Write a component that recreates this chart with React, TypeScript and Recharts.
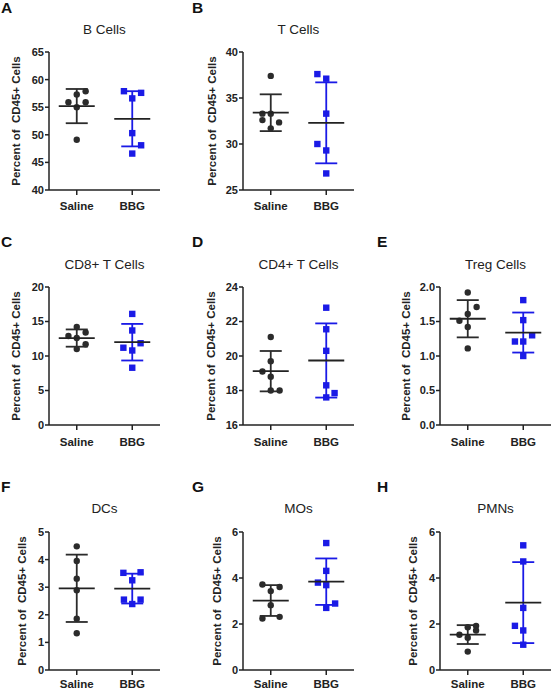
import React from 'react';
import { ScatterChart, Scatter, XAxis, YAxis, ErrorBar } from 'recharts';

const categories = ['Saline', 'BBG'];

// A: B Cells
const bCellsSaline = [57.9, 57.3, 55.9, 55.9, 55.0, 49.1];
const bCellsBBG = [57.9, 57.6, 56.6, 50.3, 48.1, 46.6];
const bCellsSalineJitter = [0.16, 0, -0.15, 0.16, 0, 0];
const bCellsBBGJitter = [-0.15, 0.16, 0, 0, 0.16, 0];
const bCellsMean = [55.2, 52.9];
const bCellsSD = [3.1, 5.0];
const bCellsTicks = [40, 45, 50, 55, 60, 65];

// B: T Cells
const tCellsSaline = [37.4, 33.3, 33.3, 32.6, 32.35, 31.7];
const tCellsBBG = [37.6, 37.1, 33.3, 30.0, 29.3, 26.8];
const tCellsSalineJitter = [0, -0.15, 0, -0.15, 0.15, 0];
const tCellsBBGJitter = [-0.16, 0, 0, -0.16, 0, 0];
const tCellsMean = [33.4, 32.3];
const tCellsSD = [2.0, 4.4];
const tCellsTicks = [25, 30, 35, 40];

// C: CD8+ T Cells
const cd8Saline = [14.2, 12.9, 13.4, 12.6, 11.7, 11.0];
const cd8BBG = [16.1, 13.7, 11.85, 11.2, 10.8, 8.3];
const cd8SalineJitter = [0, -0.15, 0.16, 0, 0.16, 0];
const cd8BBGJitter = [0, 0, 0.15, -0.16, 0, 0];
const cd8Mean = [12.6, 12.0];
const cd8SD = [1.25, 2.65];
const cd8Ticks = [0, 5, 10, 15, 20];

// D: CD4+ T Cells
const cd4Saline = [21.1, 19.7, 19.1, 18.8, 18.0, 18.0];
const cd4BBG = [22.8, 21.55, 20.3, 18.3, 17.85, 17.6];
const cd4SalineJitter = [0, 0, -0.15, 0, 0, 0.16];
const cd4BBGJitter = [0, 0, 0, 0, 0.15, 0];
const cd4Mean = [19.12, 19.74];
const cd4SD = [1.17, 2.15];
const cd4Ticks = [16, 18, 20, 22, 24];

// E: Treg Cells
const tregSaline = [1.92, 1.71, 1.61, 1.51, 1.42, 1.11];
const tregBBG = [1.81, 1.52, 1.3, 1.21, 1.21, 1.0];
const tregSalineJitter = [0, 0.16, 0, -0.15, 0, 0];
const tregBBGJitter = [0, 0, 0.16, -0.15, 0, 0];
const tregMean = [1.54, 1.34];
const tregSD = [0.27, 0.29];
const tregTicks = [0, 0.5, 1.0, 1.5, 2.0];

// F: DCs
const dcSaline = [4.48, 3.95, 3.31, 2.89, 1.86, 1.33];
const dcBBG = [3.52, 3.54, 3.25, 2.55, 2.55, 2.39];
const dcSalineJitter = [0, 0, 0, 0, 0, 0];
const dcBBGJitter = [-0.16, 0.15, 0, -0.15, 0.15, 0];
const dcMean = [2.96, 2.95];
const dcSD = [1.22, 0.54];
const dcTicks = [0, 1, 2, 3, 4, 5];

// G: MOs
const moSaline = [3.72, 3.61, 3.43, 2.82, 2.24, 2.31];
const moBBG = [5.52, 4.31, 3.8, 3.69, 2.89, 2.7];
const moSalineJitter = [-0.15, 0.16, 0, 0, -0.15, 0.16];
const moBBGJitter = [0, 0, -0.15, 0, 0.16, 0];
const moMean = [3.02, 3.84];
const moSD = [0.67, 1.01];
const moTicks = [0, 2, 4, 6];

// H: PMNs
const pmnSaline = [1.92, 1.86, 1.72, 1.53, 1.4, 0.8];
const pmnBBG = [5.42, 4.72, 2.7, 1.92, 1.72, 1.1];
const pmnSalineJitter = [0.15, 0, 0.15, -0.15, 0, 0];
const pmnBBGJitter = [0, 0, 0, -0.15, 0, 0];
const pmnMean = [1.54, 2.93];
const pmnSD = [0.41, 1.76];
const pmnTicks = [0, 2, 4, 6];

const FONT = '"Liberation Sans", Arial, Helvetica, sans-serif';
const DARK = '#2b2b2b';
const BLUE = '#1a1ae6';
const AXIS = '#222';

const PW = 111;
const PH = 138;
const YW = 49;
const MT = 10;
const XH = 28;

const SalineDot = (props: any) => <circle cx={props.cx} cy={props.cy} r={3.2} fill={DARK} />;
const BBGDot = (props: any) => (
  <rect x={props.cx - 3.2} y={props.cy - 3.2} width={6.4} height={6.4} fill={BLUE} />
);
const MeanLine = (props: any) => (
  <line x1={props.cx - 18} x2={props.cx + 18} y1={props.cy} y2={props.cy} stroke={AXIS} strokeWidth={1.8} />
);

type PanelProps = {
  letter: string;
  letterX: number;
  title: string;
  axisX: number;
  plotTop: number;
  labelOff: number;
  xTickMargin: number;
  ticks: number[];
  decimals: number;
  saline: number[];
  bbg: number[];
  salineJitter: number[];
  bbgJitter: number[];
  mean: number[];
  sd: number[];
};

function Panel(p: PanelProps) {
  const chartLeft = p.axisX - YW;
  const chartTop = p.plotTop - MT;
  const salineData = p.saline.map((v, i) => ({ x: 1 + p.salineJitter[i], y: v }));
  const bbgData = p.bbg.map((v, i) => ({ x: 2 + p.bbgJitter[i], y: v }));
  const salineSummary = [{ x: 1, y: p.mean[0], sd: p.sd[0] }];
  const bbgSummary = [{ x: 2, y: p.mean[1], sd: p.sd[1] }];
  const domain = [p.ticks[0], p.ticks[p.ticks.length - 1]];
  const letterFs = 15.5;
  const titleFs = 13.5;
  const labelFs = 11.5;
  return (
    <>
      <div
        style={{
          position: 'absolute',
          left: p.letterX,
          top: Math.max(0, p.plotTop - 45 - letterFs * 0.49),
          fontSize: letterFs,
          lineHeight: `${letterFs}px`,
          fontWeight: 'bold',
          fontFamily: FONT,
          color: '#111',
        }}
      >
        {p.letter}
      </div>
      <div
        style={{
          position: 'absolute',
          left: p.axisX,
          width: PW,
          textAlign: 'center',
          top: p.plotTop - 22.5 - titleFs * 0.49,
          fontSize: titleFs,
          lineHeight: `${titleFs}px`,
          fontFamily: FONT,
          color: '#222',
          whiteSpace: 'nowrap',
        }}
      >
        {p.title}
      </div>
      <div
        style={{
          position: 'absolute',
          left: p.axisX - p.labelOff,
          top: p.plotTop + PH / 2,
          transform: 'translate(-50%, -50%) rotate(-90deg)',
          fontSize: labelFs,
          lineHeight: `${labelFs}px`,
          fontWeight: 'bold',
          fontFamily: FONT,
          color: '#222',
          whiteSpace: 'pre',
        }}
      >
        {'Percent of  CD45+ Cells'}
      </div>
      <div style={{ position: 'absolute', left: chartLeft, top: chartTop }}>
        <ScatterChart
          width={YW + PW + 6}
          height={MT + PH + XH}
          margin={{ top: MT, right: 6, bottom: 0, left: 0 }}
        >
          <XAxis
            type="number"
            dataKey="x"
            domain={[0.5, 2.5]}
            ticks={[1, 2]}
            tickFormatter={(v: number) => categories[Math.round(v) - 1]}
            height={XH}
            axisLine={{ stroke: AXIS, strokeWidth: 1.5 }}
            tickLine={{ stroke: AXIS, strokeWidth: 1.5 }}
            tickSize={5}
            tickMargin={p.xTickMargin}
            tick={{ fontSize: 11.5, fontWeight: 'bold', fill: '#222', fontFamily: FONT }}
            allowDataOverflow
          />
          <YAxis
            type="number"
            dataKey="y"
            domain={domain}
            ticks={p.ticks}
            width={YW}
            interval={0}
            tickFormatter={(v: number) => v.toFixed(p.decimals)}
            axisLine={{ stroke: AXIS, strokeWidth: 1.5 }}
            tickLine={{ stroke: AXIS, strokeWidth: 1.5 }}
            tickSize={4}
            tickMargin={1}
            tick={{ fontSize: 11, fontWeight: 'bold', fill: '#222', fontFamily: FONT }}
            allowDataOverflow
          />
          <Scatter data={salineData} shape={SalineDot} isAnimationActive={false} />
          <Scatter data={bbgData} shape={BBGDot} isAnimationActive={false} />
          <Scatter data={salineSummary} shape={MeanLine} isAnimationActive={false}>
            <ErrorBar dataKey="sd" direction="y" width={11} stroke={DARK} strokeWidth={1.8} isAnimationActive={false} />
          </Scatter>
          <Scatter data={bbgSummary} shape={MeanLine} isAnimationActive={false}>
            <ErrorBar dataKey="sd" direction="y" width={11} stroke={BLUE} strokeWidth={1.8} isAnimationActive={false} />
          </Scatter>
        </ScatterChart>
      </div>
    </>
  );
}

const COL = [49, 243, 440];
const LETTER_X = [1, 192, 377];
const ROW = [52, 287, 531.5];
const XTM = [7, 8, 5];

export default function App() {
  return (
    <div
      style={{
        position: 'absolute',
        left: 0,
        top: 0,
        width: 552,
        height: 691,
        background: '#fff',
        overflow: 'hidden',
      }}
    >
      <Panel letter="A" letterX={LETTER_X[0]} title="B Cells" axisX={COL[0]} plotTop={ROW[0]} labelOff={32} xTickMargin={XTM[0]}
        ticks={bCellsTicks} decimals={0} saline={bCellsSaline} bbg={bCellsBBG}
        salineJitter={bCellsSalineJitter} bbgJitter={bCellsBBGJitter} mean={bCellsMean} sd={bCellsSD} />
      <Panel letter="B" letterX={LETTER_X[1]} title="T Cells" axisX={COL[1]} plotTop={ROW[0]} labelOff={30} xTickMargin={XTM[0]}
        ticks={tCellsTicks} decimals={0} saline={tCellsSaline} bbg={tCellsBBG}
        salineJitter={tCellsSalineJitter} bbgJitter={tCellsBBGJitter} mean={tCellsMean} sd={tCellsSD} />
      <Panel letter="C" letterX={LETTER_X[0]} title="CD8+ T Cells" axisX={COL[0]} plotTop={ROW[1]} labelOff={32} xTickMargin={XTM[1]}
        ticks={cd8Ticks} decimals={0} saline={cd8Saline} bbg={cd8BBG}
        salineJitter={cd8SalineJitter} bbgJitter={cd8BBGJitter} mean={cd8Mean} sd={cd8SD} />
      <Panel letter="D" letterX={LETTER_X[1]} title="CD4+ T Cells" axisX={COL[1]} plotTop={ROW[1]} labelOff={31} xTickMargin={XTM[1]}
        ticks={cd4Ticks} decimals={0} saline={cd4Saline} bbg={cd4BBG}
        salineJitter={cd4SalineJitter} bbgJitter={cd4BBGJitter} mean={cd4Mean} sd={cd4SD} />
      <Panel letter="E" letterX={LETTER_X[2]} title="Treg Cells" axisX={COL[2]} plotTop={ROW[1]} labelOff={33} xTickMargin={XTM[1]}
        ticks={tregTicks} decimals={1} saline={tregSaline} bbg={tregBBG}
        salineJitter={tregSalineJitter} bbgJitter={tregBBGJitter} mean={tregMean} sd={tregSD} />
      <Panel letter="F" letterX={LETTER_X[0]} title="DCs" axisX={COL[0]} plotTop={ROW[2]} labelOff={26} xTickMargin={XTM[2]}
        ticks={dcTicks} decimals={0} saline={dcSaline} bbg={dcBBG}
        salineJitter={dcSalineJitter} bbgJitter={dcBBGJitter} mean={dcMean} sd={dcSD} />
      <Panel letter="G" letterX={LETTER_X[1]} title="MOs" axisX={COL[1]} plotTop={ROW[2]} labelOff={25} xTickMargin={XTM[2]}
        ticks={moTicks} decimals={0} saline={moSaline} bbg={moBBG}
        salineJitter={moSalineJitter} bbgJitter={moBBGJitter} mean={moMean} sd={moSD} />
      <Panel letter="H" letterX={LETTER_X[2]} title="PMNs" axisX={COL[2]} plotTop={ROW[2]} labelOff={26} xTickMargin={XTM[2]}
        ticks={pmnTicks} decimals={0} saline={pmnSaline} bbg={pmnBBG}
        salineJitter={pmnSalineJitter} bbgJitter={pmnBBGJitter} mean={pmnMean} sd={pmnSD} />
    </div>
  );
}
